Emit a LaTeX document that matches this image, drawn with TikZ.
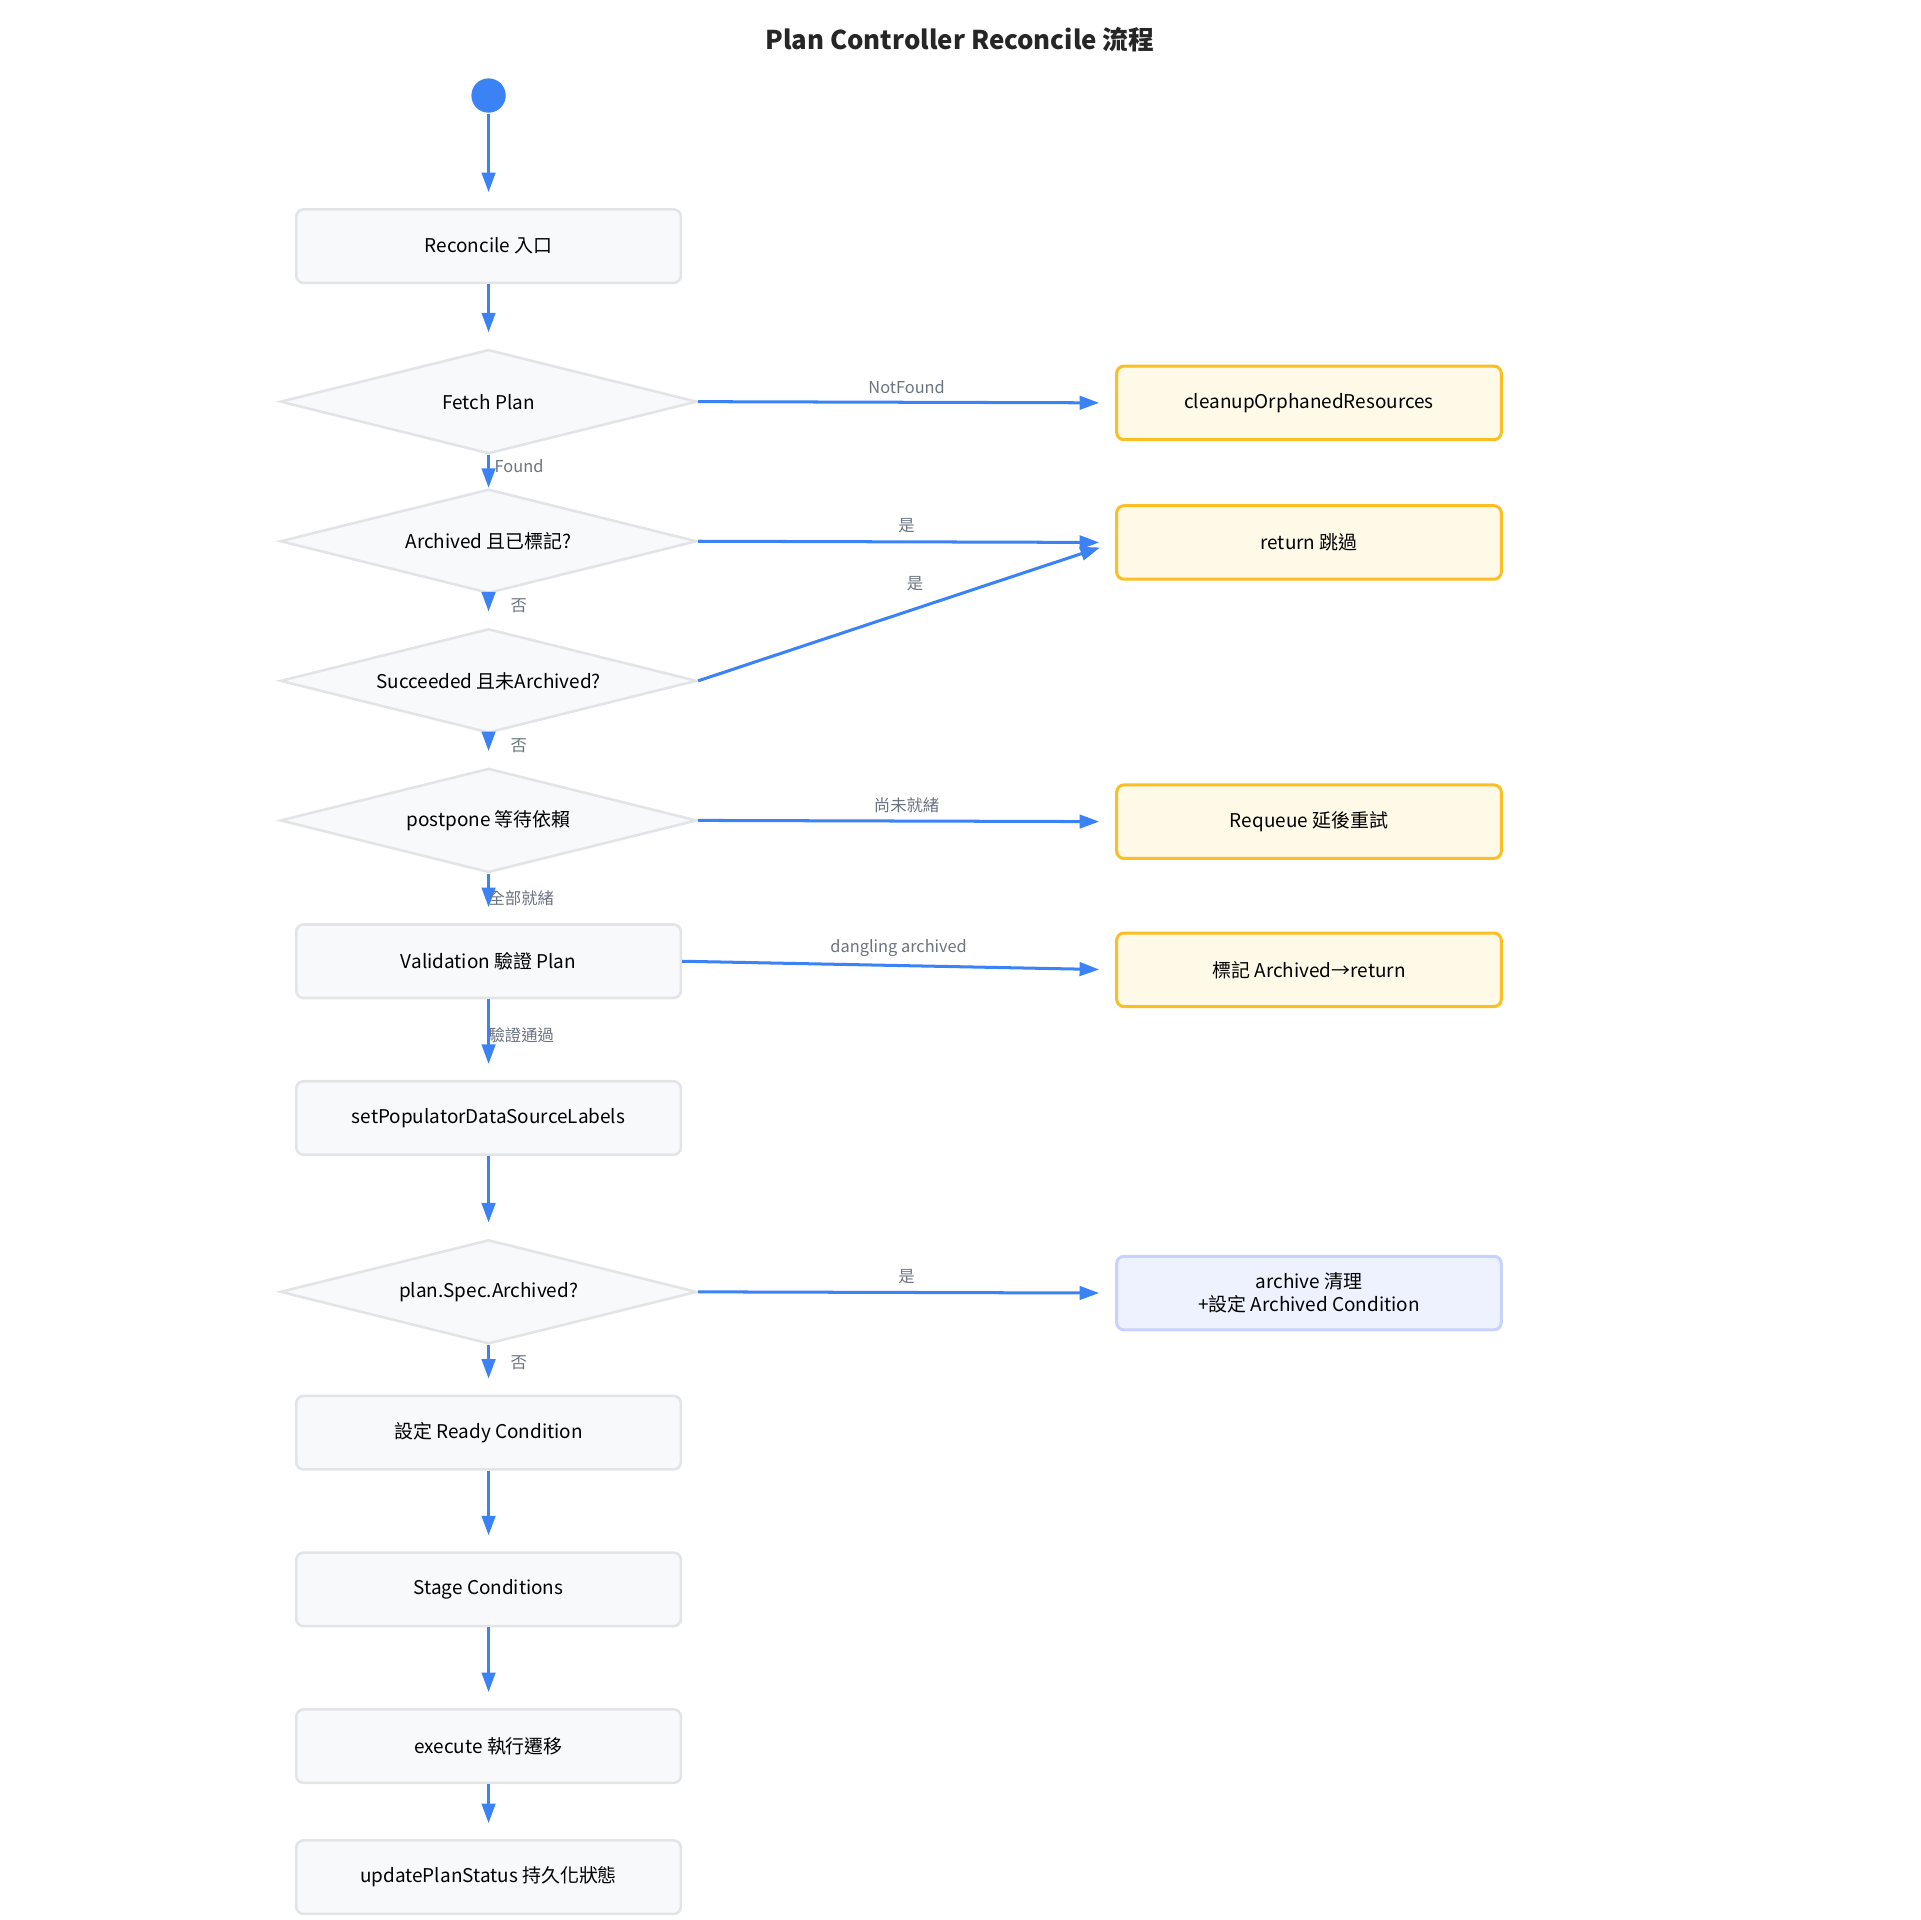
\documentclass[tikz,border=0pt]{standalone}
\usepackage{fontspec}
\setmainfont{Noto Sans CJK TC}
\usetikzlibrary{shapes.geometric,arrows.meta,positioning}
\definecolor{stepfill}{HTML}{F8F9FA}
\definecolor{stepline}{HTML}{E2E4E8}
\definecolor{warnfill}{HTML}{FFF9E8}
\definecolor{warnline}{HTML}{FBBF24}
\definecolor{archfill}{HTML}{EEF2FF}
\definecolor{archline}{HTML}{C7D2FE}
\definecolor{flowcolor}{HTML}{3B82F6}
\definecolor{labelcolor}{HTML}{6B7280}
\begin{document}
\begin{tikzpicture}[
    x=0.01cm, y=-0.01cm,
    task/.style={rectangle, rounded corners=0.06cm, draw=stepline, line width=0.6pt, fill=stepfill, minimum width=3.14cm, minimum height=0.6cm, font=\fontsize{4.4}{5.4}\selectfont, align=center},
    warn/.style={task, draw=warnline, fill=warnfill, line width=0.7pt},
    arch/.style={task, draw=archline, fill=archfill, line width=0.7pt},
    check/.style={diamond, aspect=4, draw=stepline, line width=0.6pt, fill=stepfill, minimum width=3.4cm, minimum height=0.85cm, inner sep=0pt, font=\fontsize{4.4}{5.4}\selectfont},
    arrow/.style={-{Triangle[length=0.16cm,width=0.11cm]}, draw=flowcolor, line width=0.7pt},
    down/.style={arrow, shorten >=0.13cm},
    side/.style={arrow, shorten >=0.13cm},
    lbl/.style={font=\fontsize{3.8}{4.5}\selectfont, text=labelcolor, inner sep=0.5pt}
]
\useasboundingbox (0,0) rectangle (1568,1568);
\node[font=\bfseries\fontsize{6}{7}\selectfont, text=black!85] (title) at (784,32) {Plan Controller Reconcile 流程};
\node[circle, fill=flowcolor, minimum size=0.28cm, inner sep=0pt] (start) at (399,78) {};

% main column
\node[task] (entry) at (399,201) {Reconcile 入口};
\node[check] (fetch) at (399,328) {Fetch Plan};
\node[check] (archived) at (399,442) {Archived 且已標記?};
\node[check] (succeeded) at (399,556) {Succeeded 且未Archived?};
\node[check] (postpone) at (399,670) {postpone 等待依賴};
\node[task] (validate) at (399,785) {Validation 驗證 Plan};
\node[task] (labels) at (399,913) {setPopulatorDataSourceLabels};
\node[check] (specarch) at (399,1055) {plan.Spec.Archived?};
\node[task] (ready) at (399,1170) {設定 Ready Condition};
\node[task] (stage) at (399,1298) {Stage Conditions};
\node[task] (execute) at (399,1426) {execute 執行遷移};
\node[task] (update) at (399,1533) {updatePlanStatus 持久化狀態};

% side exits
\node[warn] (cleanup) at (1069,329) {cleanupOrphanedResources};
\node[warn] (skip) at (1069,443) {return 跳過};
\node[warn] (requeue) at (1069,671) {Requeue 延後重試};
\node[warn] (mark) at (1069,792) {標記 Archived→return};
\node[arch] (archclean) at (1069,1056) {archive 清理\\+設定 Archived Condition};

\draw[down] (start) -- (entry);
\draw[down] (entry) -- (fetch);
\draw[arrow] (fetch.south) -- (archived.north) node[lbl, anchor=west, pos=0.35, xshift=0.02cm] {Found};
\draw[down] (archived) -- (succeeded) node[lbl, pos=0.35, right=0.15cm] {否};
\draw[down] (succeeded) -- (postpone) node[lbl, pos=0.35, right=0.15cm] {否};
\draw[down] (postpone) -- (validate) node[lbl, pos=0.5, anchor=west, xshift=-0.03cm] {全部就緒};
\draw[down] (validate) -- (labels) node[lbl, pos=0.45, anchor=west, xshift=-0.03cm] {驗證通過};
\draw[down] (labels) -- (specarch);
\draw[down] (specarch) -- (ready) node[lbl, pos=0.35, right=0.15cm] {否};
\draw[down] (ready) -- (stage);
\draw[down] (stage) -- (execute);
\draw[down] (execute) -- (update);

\draw[side] (fetch.east) -- (cleanup.west) node[lbl, midway, above=0.04cm] {NotFound};
\draw[side] (archived.east) -- (skip.west) node[lbl, midway, above=0.04cm] {是};
\draw[side] (succeeded.east) -- (skip.west) node[lbl, pos=0.52, above=0.12cm] {是};
\draw[side] (postpone.east) -- (requeue.west) node[lbl, midway, above=0.04cm] {尚未就緒};
\draw[side] (validate.east) -- (mark.west) node[lbl, midway, above=0.04cm] {dangling archived};
\draw[side] (specarch.east) -- (archclean.west) node[lbl, midway, above=0.04cm] {是};
\end{tikzpicture}
\end{document}
